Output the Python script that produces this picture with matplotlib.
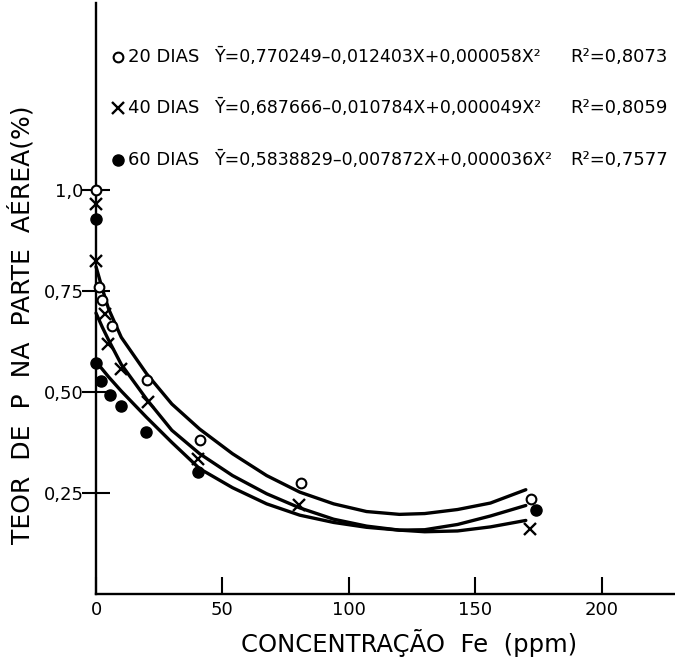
import matplotlib.pyplot as plt
import numpy as np

# observed P content in shoots (%) against Fe concentration (ppm)
d20_x = [0, 1, 2.5, 6.5, 20, 41, 81, 172]
d20_y = [1.0, 0.76, 0.728, 0.663, 0.530, 0.381, 0.275, 0.236]
d40_x = [0, 0, 3.7, 4.7, 10, 20.5, 40.3, 80.4, 171.5]
d40_y = [0.964, 0.823, 0.693, 0.619, 0.556, 0.474, 0.334, 0.219, 0.162]
d60_x = [0, 0, 2.1, 5.4, 10, 19.9, 40.3, 174.2]
d60_y = [0.928, 0.572, 0.527, 0.492, 0.466, 0.400, 0.301, 0.209]

# regression curves as traced on the plot
curve_x = [0, 2.5, 5, 10, 20, 30, 41, 54, 67.5, 80.6, 94, 107, 120, 130, 143, 156, 170]
c20_y = [0.81, 0.755, 0.705, 0.635, 0.545, 0.47, 0.408, 0.347, 0.293, 0.252,
         0.223, 0.204, 0.197, 0.199, 0.209, 0.225, 0.258]
c40_y = [0.695, 0.66, 0.628, 0.568, 0.482, 0.405, 0.347, 0.293, 0.248, 0.213,
         0.185, 0.168, 0.158, 0.154, 0.156, 0.166, 0.182]
c60_y = [0.575, 0.556, 0.537, 0.502, 0.437, 0.375, 0.31, 0.263, 0.223, 0.195,
         0.177, 0.165, 0.158, 0.159, 0.172, 0.193, 0.219]

names = ['20 DIAS', '40 DIAS', '60 DIAS']
equations = ['Ȳ=0,770249–0,012403X+0,000058X²',
             'Ȳ=0,687666–0,010784X+0,000049X²',
             'Ȳ=0,5838829–0,007872X+0,000036X²']
r2 = ['R²=0,8073', 'R²=0,8059', 'R²=0,7577']

xticks = [0, 50, 100, 150, 200]
yticks = [0.25, 0.50, 0.75, 1.0]
ytick_labels = ['0,25', '0,50', '0,75', '1,0']

W, H = 675, 658
fig = plt.figure(figsize=(W / 100, H / 100), dpi=100)
ax = fig.add_axes([96 / W, 64 / H, 1 - 96 / W, 1 - 64 / H - 0.004])
ax.set_xlim(0, 229)
ax.set_ylim(0, 1.463)

for cy in (c20_y, c40_y, c60_y):
    ax.plot(curve_x, cy, color='black', lw=2.4, solid_joinstyle='round',
            solid_capstyle='round', clip_on=False)

open_style = dict(ls='none', marker='o', mfc='white', mec='black', ms=7, mew=1.5)
x_style = dict(ls='none', marker='x', color='black', ms=8, mew=1.7)
dot_style = dict(ls='none', marker='o', color='black', ms=8)

ax.plot(d20_x, d20_y, clip_on=False, zorder=5, **open_style)
ax.plot(d40_x, d40_y, clip_on=False, zorder=5, **x_style)
ax.plot(d60_x, d60_y, clip_on=False, zorder=5, **dot_style)

for s in ('top', 'right'):
    ax.spines[s].set_visible(False)
for s in ('left', 'bottom'):
    ax.spines[s].set_linewidth(1.7)

ax.set_xticks(xticks)
ax.set_xticklabels([str(t) for t in xticks], fontsize=13)
ax.set_yticks(yticks)
ax.set_yticklabels(ytick_labels, fontsize=13)
ax.tick_params(axis='x', direction='in', length=12, width=1.5, pad=5)
ax.tick_params(axis='y', direction='inout', length=20, width=1.5, pad=-1)

fig.text(409 / W, 1 - 643 / H, 'CONCENTRAÇÃO  Fe  (ppm)', fontsize=17.5,
         ha='center', va='center')
fig.text(21 / W, 1 - 325 / H, 'TEOR  DE  P  NA  PARTE  AÉREA(%)', fontsize=18,
         rotation=90, ha='center', va='center')

# legend rows with the fitted equations
row_y = [57, 108, 160]
styles = [open_style, x_style, dot_style]
for i in range(3):
    fy = 1 - row_y[i] / H
    fig.lines.append(plt.Line2D([118 / W], [fy], transform=fig.transFigure,
                                **styles[i]))
    fig.text(128 / W, fy, names[i], fontsize=13, va='center')
    fig.text(214 / W, fy, equations[i], fontsize=12.5, va='center')
    fig.text(668 / W, fy, r2[i], fontsize=13, va='center', ha='right')

fig.savefig('out.png', dpi=100)
